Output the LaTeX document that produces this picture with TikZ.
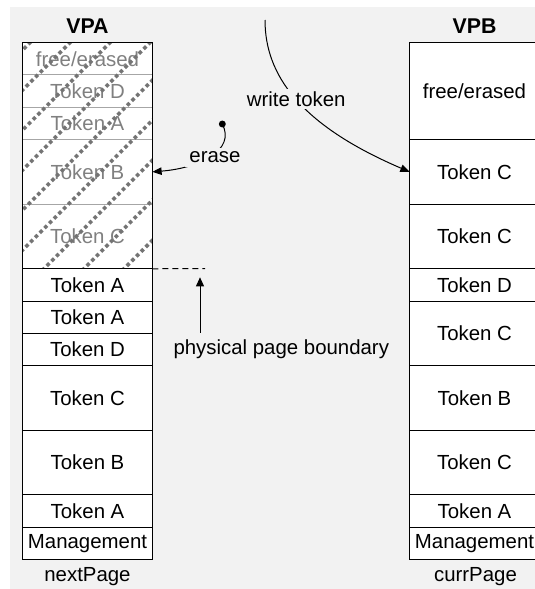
\documentclass[tikz,border=0pt]{standalone}
\usepackage{fontspec}
\setmainfont{Liberation Sans}
\usetikzlibrary{positioning,arrows.meta}

\definecolor{bgc}{HTML}{F2F2F2}
\definecolor{erasedtxt}{HTML}{808080}
\definecolor{sepline}{HTML}{A6A6A6}
\definecolor{hatchc}{HTML}{747474}

\begin{document}
\begin{tikzpicture}[x=0.75pt,y=-0.75pt,
  every node/.style={font=\fontsize{15.3}{18}\selectfont},
  cell/.style={draw=black, line width=0.75pt, fill=white, minimum width=97.2pt,
               inner sep=0pt, outer sep=0pt, anchor=north},
  one/.style={minimum height=24.22pt},
  two/.style={minimum height=48.44pt},
  three/.style={minimum height=72.66pt},
  gone/.style={draw=sepline, text=erasedtxt},
  hatchline/.style={draw=hatchc, line width=2.7pt, dash pattern=on 2.7pt off 2.3pt},
  conn/.style={draw=black, line width=0.75pt},
  tip/.style={-{Triangle[length=7pt,width=5.6pt]}},
  title/.style={font=\fontsize{16}{19}\selectfont\bfseries},
]
\useasboundingbox (0,0) rectangle (535,589);
\fill[bgc] (10,7) rectangle (535,589);

% ---- page VPA (nextPage) ----
\node[cell,one,gone] (a1) at (87.5,42.7) {free/erased};
\node[cell,one,gone,below=0pt of a1] (a2) {Token D};
\node[cell,one,gone,below=0pt of a2] (a3) {Token A};
\node[cell,two,gone,below=0pt of a3] (a4) {Token B};
\node[cell,two,gone,below=0pt of a4] (a5) {Token C};

% erased area hatching
\begin{scope}
  \clip (a1.north west) rectangle (a5.south east);
  \foreach \hc in {72.7,112.7,...,432.7}
    \draw[hatchline] (\hc-280,280) -- (\hc-20,20);
\end{scope}

\node[cell,one,below=0pt of a5] (a6) {Token A};
\node[cell,one,below=0pt of a6] (a7) {Token A};
\node[cell,one,below=0pt of a7] (a8) {Token D};
\node[cell,two,below=0pt of a8] (a9) {Token C};
\node[cell,two,below=0pt of a9] (a10) {Token B};
\node[cell,one,below=0pt of a10] (a11) {Token A};
\node[cell,one,below=0pt of a11] (a12) {Management};
\draw[line width=0.75pt] (a1.north west) rectangle (a12.south east);

\node[title] (vpa) at (87.5,25.8) {VPA};
\node (npg) at (87.5,576.7) {nextPage};

% ---- page VPB (currPage) ----
\node[cell,three] (b1) at (474.5,42.7) {free/erased};
\node[cell,two,below=0pt of b1] (b2) {Token C};
\node[cell,two,below=0pt of b2] (b3) {Token C};
\node[cell,one,below=0pt of b3] (b4) {Token D};
\node[cell,two,below=0pt of b4] (b5) {Token C};
\node[cell,two,below=0pt of b5] (b6) {Token B};
\node[cell,two,below=0pt of b6] (b7) {Token C};
\node[cell,one,below=0pt of b7] (b8) {Token A};
\node[cell,one,below=0pt of b8] (b9) {Management};

\node[title] (vpb) at (474.5,25.8) {VPB};
\node (cpg) at (475.5,576.7) {currPage};

% ---- write token ----
\coordinate (wtop) at (265,20);
\draw[conn,tip] (wtop) .. controls (265,75) and (300,125) .. (b2.west)
  node[pos=0.5, fill=bgc, inner sep=2pt] (wlbl) {write token};

% ---- erase ----
\coordinate (edot) at (222.3,124);
\draw[conn,tip] (edot) .. controls (236,150) and (200,168) .. (a4.east);
\fill (edot) circle (2.6pt);
\node[fill=bgc, inner sep=3pt] (elbl) at (215,157.3) {erase};

% ---- physical page boundary ----
\coordinate (pbend) at (205,268.7);
\draw[conn, dash pattern=on 4.5pt off 3pt] (a6.north east) -- (pbend);
\node[inner sep=0pt] (pblbl) at (281.3,349) {physical page boundary};
\coordinate (pbtip) at (200,277.3);
\draw[conn,-{Triangle[length=6.8pt,width=6pt]},shorten <=4.8pt]
  (pbtip |- pblbl.north) -- (pbtip);
\end{tikzpicture}
\end{document}
